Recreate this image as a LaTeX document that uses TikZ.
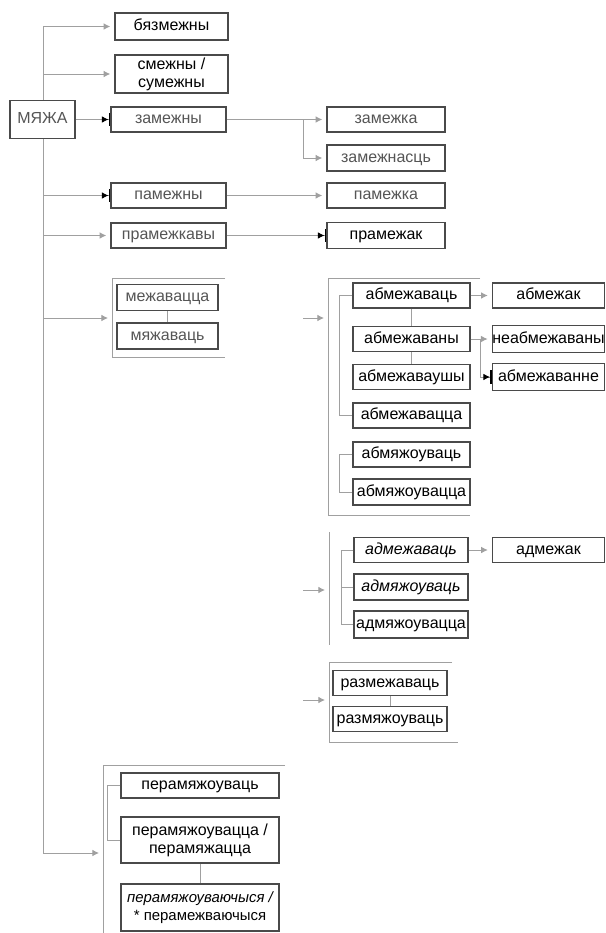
\documentclass[tikz,border=0pt]{standalone}
\usepackage{fontspec}
\setmainfont{Liberation Sans}
\usetikzlibrary{arrows.meta}
\definecolor{boxline}{HTML}{4A4A4A}
\definecolor{connc}{HTML}{A0A0A0}
\definecolor{graytext}{HTML}{555555}
\begin{document}
\begin{tikzpicture}[x=0.75pt,y=-0.75pt,
  box/.style={draw=boxline, line width=1.1pt, fill=white, inner sep=0pt,
    font=\fontsize{12}{13.5}\selectfont, text=black, text height=8.6pt, text depth=2.4pt},
  mbox/.style={draw=boxline, line width=1.1pt, fill=white, inner sep=0pt, align=center,
    font=\fontsize{12}{13.5}\selectfont, text=black},
  gbox/.style={box, text=graytext},
  bw/.style={minimum width=#1*0.75pt},
  bh/.style={minimum height=#1*0.75pt},
  conn/.style={draw=connc, line width=0.7pt},
  garr/.style={conn, -{Latex[length=5pt,width=5pt]}, shorten >=3pt},
  darr/.style={conn, -{Latex[length=5pt,width=5pt,color=black]Bar[width=10pt,line width=1.3pt,color=black]}},
  brk/.style={draw=connc, line width=0.7pt},
]
\useasboundingbox[fill=white] (0,0) rectangle (606,933);

% trunk coordinates
\coordinate (tTop) at (43,26.5);
\coordinate (tBot) at (43,853);
\draw[conn] (tTop) -- (tBot);

% left column
\node[gbox,bw=65,bh=38] (mya) at (42.5,119.5) {МЯЖА};
\node[box,bw=113,bh=27] (b1) at (171.5,26.5) {бязмежны};
\node[mbox,bw=113,bh=38] (b2) at (171.5,74) {смежны /\\сумежны};
\node[gbox,bw=115,bh=25] (b3) at (168.5,119.5) {замежны};
\node[gbox,bw=115,bh=25] (b4) at (168.5,195.5) {памежны};
\node[gbox,bw=115,bh=25] (b5) at (168.5,235.5) {прамежкавы};
\node[gbox,bw=101,bh=26] (b6) at (167.5,297.5) {межавацца};
\node[gbox,bw=101,bh=26] (b7) at (167.5,336) {мяжаваць};

% right column (top)
\node[gbox,bw=118,bh=25] (c1) at (386,119.5) {замежка};
\node[gbox,bw=118,bh=26] (c2) at (386,158) {замежнасць};
\node[gbox,bw=118,bh=25] (c3) at (386,195.5) {памежка};
\node[box,bw=118,bh=26] (c4) at (386,235.5) {прамежак};

% abmezh group
\node[box,bw=117,bh=25] (a1) at (411.5,295.5) {абмежаваць};
\node[box,bw=117,bh=25] (a2) at (411.5,339) {абмежаваны};
\node[box,bw=117,bh=25] (a3) at (411.5,377) {абмежаваушы};
\node[box,bw=117,bh=25] (a4) at (411.5,415.5) {абмежавацца};
\node[box,bw=117,bh=25] (a5) at (411.5,454.5) {абмяжоуваць};
\node[box,bw=117,bh=26] (a6) at (411.5,492) {абмяжоувацца};
\node[box,bw=112,bh=25] (r1) at (548.5,295.5) {абмежак};
\node[box,bw=112,bh=27] (r2) at (548.5,339) {неабмежаваны};
\node[box,bw=112,bh=27] (r3) at (548.5,377) {абмежаванне};

% admezh group
\node[box,bw=114,bh=25] (d1) at (411,550) {\itshape адмежаваць};
\node[box,bw=114,bh=26] (d2) at (411,587) {\itshape адмяжоуваць};
\node[box,bw=114,bh=27] (d3) at (411,624.5) {адмяжоувацца};
\node[box,bw=112,bh=25] (d4) at (548.5,550) {адмежак};

% razmezh group
\node[box,bw=114,bh=25] (e1) at (390,683) {размежаваць};
\node[box,bw=114,bh=25] (e2) at (390,719) {размяжоуваць};

% peramyazh group
\node[box,bw=158,bh=25] (p1) at (200,785.5) {перамяжоуваць};
\node[mbox,bw=158,bh=46] (p2) at (200,840) {перамяжоувацца /\\перамяжацца};
\node[mbox,bw=158,bh=47,font=\fontsize{11.2}{14}\selectfont] (p3) at (200,907.5) {{\itshape перамяжоуваючыся /}\\* перамежваючыся};

% branches from trunk
\draw[garr] (tTop) -- (b1.west);
\draw[garr] (b2.west -| tTop) -- (b2.west);
\draw[darr] (mya.east) -- (b3.west);
\draw[darr] (b4.west -| tTop) -- (b4.west);
\draw[garr] (b5.west -| tTop) -- (b5.west);

% group 1 bracket
\coordinate (g1a) at (225,278);
\coordinate (g1b) at (112,278);
\coordinate (g1c) at (112,357);
\coordinate (g1d) at (225,357);
\coordinate (g1in) at (112,318);
\draw[brk] (g1a) -- (g1b) -- (g1c) -- (g1d);
\draw[garr] (g1in -| tTop) -- (g1in);
\draw[brk] (b6.south) -- (b7.north);

% top right connectors
\coordinate (j1) at (303,119.5);
\draw[garr] (b3.east) -- (c1.west);
\draw[garr] (j1) |- (c2.west);
\draw[garr] (b4.east) -- (c3.west);
\draw[darr] (b5.east) -- (c4.west);

% group 2 bracket
\coordinate (g2a) at (480,278);
\coordinate (g2b) at (328,278);
\coordinate (g2c) at (328,515);
\coordinate (g2d) at (470,515);
\coordinate (g2in) at (328,318);
\coordinate (s2) at (303,318);
\draw[brk] (g2a) -- (g2b) -- (g2c) -- (g2d);
\draw[garr] (s2) -- (g2in);
\draw[brk] (a1.west) -- ++(-13,0) |- (a4.west);
\draw[brk] (a5.west) -- ++(-13,0) |- (a6.west);
\draw[brk] (a1.south) -- (a2.north);
\draw[brk] (a2.south) -- (a3.north);
\draw[garr] (a1.east) -- (r1.west);
\coordinate (j2) at (480,339);
\draw[garr] (a2.east) -- (r2.west);
\draw[darr] (j2) |- (r3.west);

% group 3 bracket
\coordinate (g3a) at (329,532);
\coordinate (g3b) at (329,645);
\coordinate (g3in) at (329,590);
\coordinate (s3) at (303,590);
\draw[brk] (g3a) -- (g3b);
\draw[garr] (s3) -- (g3in);
\draw[brk] (d1.west) -- ++(-12,0) |- (d3.west);
\draw[brk] (d2.west) -- ++(-12,0);
\draw[garr] (d1.east) -- (d4.west);

% group 4 bracket
\coordinate (g4a) at (452,662);
\coordinate (g4b) at (329,662);
\coordinate (g4c) at (329,742);
\coordinate (g4d) at (458,742);
\coordinate (g4in) at (329,700);
\coordinate (s4) at (303,700);
\draw[brk] (g4a) -- (g4b) -- (g4c) -- (g4d);
\draw[garr] (s4) -- (g4in);
\draw[brk] (e1.south) -- (e2.north);

% group 5 bracket
\coordinate (g5a) at (285,765);
\coordinate (g5b) at (103,765);
\coordinate (g5c) at (103,933);
\coordinate (g5in) at (103,853);
\draw[brk] (g5a) -- (g5b) -- (g5c);
\draw[garr] (tBot) -- (g5in);
\draw[brk] (p1.west) -- ++(-13,0) |- (p2.west);
\draw[brk] (p2.south) -- (p3.north);
\end{tikzpicture}
\end{document}
